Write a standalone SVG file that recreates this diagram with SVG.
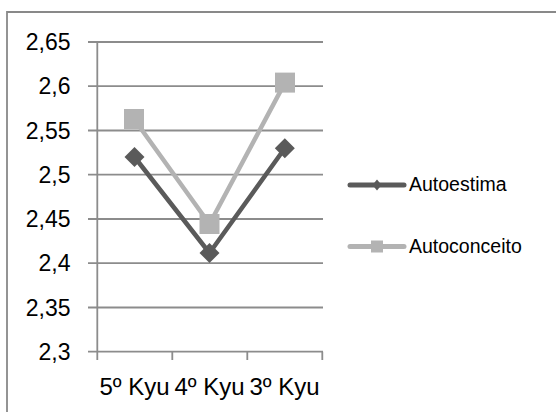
<svg xmlns="http://www.w3.org/2000/svg" width="556" height="412" viewBox="0 0 556 412">
  <defs>
    <style>
      .frame { stroke: #898989; stroke-width: 1.8; fill: none; }
      .grid { stroke: #8c8c8c; stroke-width: 1.8; fill: none; }
      .ylab { font-family: "Liberation Sans", Arial, sans-serif; font-size: 23px; fill: #000; text-anchor: end; }
      .xlab { font-family: "Liberation Sans", Arial, sans-serif; font-size: 24px; fill: #000; text-anchor: middle; }
      .leg { font-family: "Liberation Sans", Arial, sans-serif; font-size: 19.5px; fill: #000; }
      .s1 { stroke: #5a5a5a; stroke-width: 4.5; fill: none; stroke-linejoin: round; }
      .s2 { stroke: #b3b3b3; stroke-width: 4.5; fill: none; stroke-linejoin: round; }
      .m1 { fill: #5a5a5a; }
      .m2 { fill: #b3b3b3; }
    </style>
  </defs>
  <rect width="556" height="412" fill="#ffffff"/>
  <!-- chart frame (cropped at right and bottom) -->
  <path class="frame" d="M7,412 V12 H556"/>

  <g id="axes">
    <path class="grid" d="M88,42 H323 M88,86.2 H323 M88,130.5 H323 M88,174.7 H323 M88,219 H323 M88,263.2 H323 M88,307.5 H323 M88,351.7 H323"/>
    <path class="grid" d="M97.3,42 V360 M172.3,351.7 V360 M247.3,351.7 V360 M322.3,351.7 V360"/>
    <text class="ylab" x="70.5" y="50">2,65</text>
    <text class="ylab" x="70.5" y="94.2">2,6</text>
    <text class="ylab" x="70.5" y="138.5">2,55</text>
    <text class="ylab" x="70.5" y="182.7">2,5</text>
    <text class="ylab" x="70.5" y="227">2,45</text>
    <text class="ylab" x="70.5" y="271.2">2,4</text>
    <text class="ylab" x="70.5" y="315.5">2,35</text>
    <text class="ylab" x="70.5" y="359.7">2,3</text>
    <text class="xlab" x="134.5" y="395">5º Kyu</text>
    <text class="xlab" x="209.5" y="395">4º Kyu</text>
    <text class="xlab" x="284.5" y="395">3º Kyu</text>
  </g>

  <g id="connectors">
    <polyline id="autoestima-line" class="s1" points="134.5,157 209.5,253 284.8,148.2"/>
    <polyline id="autoconceito-line" class="s2" points="134,119 209.5,224 285,82.6"/>
  </g>

  <g id="autoestima-markers">
    <path class="m1" d="M134.5,147 L144.5,157 L134.5,167 L124.5,157 Z"/>
    <path class="m1" d="M209.5,243 L219.5,253 L209.5,263 L199.5,253 Z"/>
    <path class="m1" d="M284.8,138.2 L294.8,148.2 L284.8,158.2 L274.8,148.2 Z"/>
  </g>
  <g id="autoconceito-markers">
    <rect class="m2" x="124" y="109" width="20" height="20"/>
    <rect class="m2" x="199.5" y="214" width="20" height="20"/>
    <rect class="m2" x="275" y="72.6" width="20" height="20"/>
  </g>

  <g id="legend-autoestima">
    <line x1="350" y1="185" x2="404" y2="185" stroke="#5a5a5a" stroke-width="5" stroke-linecap="round"/>
    <path class="m1" d="M377,179.5 L381.5,185 L377,190.5 L372.5,185 Z"/>
    <text class="leg" x="409" y="191">Autoestima</text>
  </g>
  <g id="legend-autoconceito">
    <line x1="350" y1="246.5" x2="404" y2="246.5" stroke="#b3b3b3" stroke-width="5" stroke-linecap="round"/>
    <rect class="m2" x="371" y="240.5" width="12" height="12"/>
    <text class="leg" x="409" y="252.5">Autoconceito</text>
  </g>
</svg>
